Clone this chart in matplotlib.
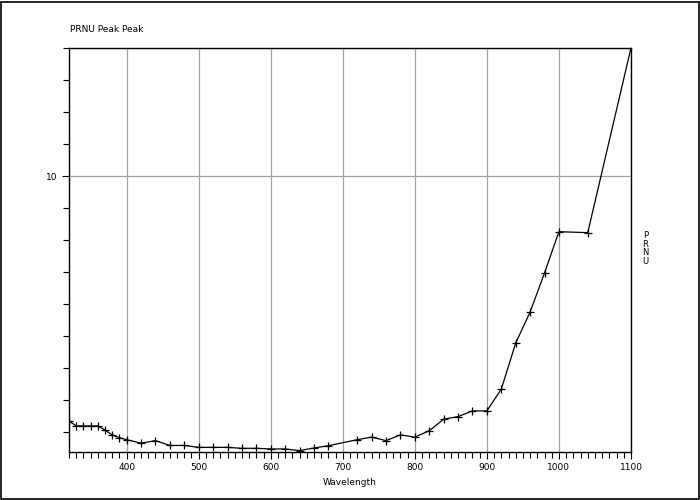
import numpy as np
import matplotlib.pyplot as plt
from matplotlib.ticker import MultipleLocator
from matplotlib.patches import Rectangle

# wavelength (nm) and PRNU peak-peak values
wavelength = [320, 330, 340, 350, 360, 370, 380, 390, 400, 420, 440, 460, 480,
              500, 520, 540, 560, 580, 600, 620, 640, 660, 680, 720, 740, 760,
              780, 800, 820, 840, 860, 880, 900, 920, 940, 960, 980, 1000, 1040,
              1100]
prnu = [2.34, 2.19, 2.19, 2.19, 2.19, 2.06, 1.91, 1.82, 1.76, 1.65, 1.73, 1.58,
        1.58, 1.52, 1.52, 1.52, 1.49, 1.49, 1.47, 1.47, 1.42, 1.50, 1.57, 1.76,
        1.84, 1.73, 1.91, 1.84, 2.04, 2.40, 2.48, 2.66, 2.66, 3.34, 4.78, 5.75,
        6.97, 8.26, 8.23, 14.0]

plt.rcParams['font.family'] = ['DejaVu Sans']
plt.rcParams['font.size'] = 6.5

fig = plt.figure(figsize=(7, 5), dpi=100)
ax = fig.add_axes([0.0986, 0.096, 0.8028, 0.808])

# curve with + markers
ax.plot(wavelength, prnu, color='black', lw=0.9, marker='+', ms=5.5, mew=0.9)

ax.set_xlim(320, 1100)
ax.set_ylim(1.375, 14.0)
ax.xaxis.set_major_locator(MultipleLocator(100))
ax.xaxis.set_minor_locator(MultipleLocator(10))
ax.yaxis.set_major_locator(MultipleLocator(10))
ax.yaxis.set_minor_locator(MultipleLocator(1))
ax.grid(True, which='major', color='#a0a0a0', lw=0.9)
ax.set_axisbelow(True)

ax.tick_params(which='both', direction='out', color='black', width=0.8,
               labelsize=6.5, right=False, top=False)
ax.tick_params(which='major', length=5, pad=3)
ax.tick_params(which='minor', length=4)
for s in ax.spines.values():
    s.set_linewidth(1.0)

ax.set_xlabel('Wavelength', fontsize=6.5, labelpad=4)
fig.text(0.1, 0.94, 'PRNU Peak Peak', fontsize=6.5, ha='left', va='center')
fig.text(0.922, 0.503, 'P\nR\nN\nU', fontsize=6, ha='center', va='center',
         linespacing=0.95)

# outer frame
fig.patches.append(Rectangle((0.002, 0.003), 0.996, 0.994, transform=fig.transFigure,
                             fill=False, edgecolor='black', lw=1.2))

fig.savefig('out.png', dpi=100, facecolor='white')
